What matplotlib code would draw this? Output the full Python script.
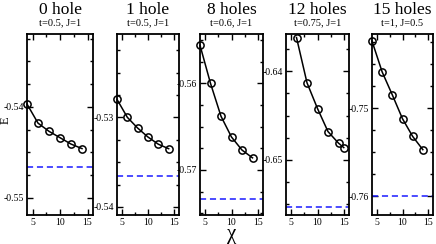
import matplotlib
matplotlib.use("Agg")
import matplotlib.pyplot as plt
from matplotlib.ticker import MultipleLocator, FormatStrFormatter

plt.rcParams['font.family'] = ['Liberation Serif', 'DejaVu Serif']

# data
titles = ["0 hole", "1 hole", "8 holes", "12 holes", "15 holes"]
subtitles = ["t=0.5, J=1", "t=0.5, J=1", "t=0.6, J=1", "t=0.75, J=1", "t=1, J=0.5"]

chi_0 = [4, 6, 8, 10, 12, 14]
E_0 = [-0.5397, -0.5418, -0.5427, -0.5434, -0.5441, -0.5446]
chi_1 = [4, 6, 8, 10, 12, 14]
E_1 = [-0.5280, -0.5300, -0.5312, -0.5322, -0.5330, -0.5335]
chi_8 = [4, 6, 8, 10, 12, 14]
E_8 = [-0.5556, -0.5600, -0.5638, -0.5662, -0.5677, -0.5686]
chi_12 = [6, 8, 10, 12, 14, 15]
E_12 = [-0.6362, -0.6413, -0.6442, -0.6468, -0.6481, -0.6486]
chi_15 = [4, 6, 8, 10, 12, 14]
E_15 = [-0.7424, -0.7459, -0.7485, -0.7512, -0.7532, -0.7547]

exact = [-0.5466, -0.5365, -0.5733, -0.6553, -0.7600]

chis = [chi_0, chi_1, chi_8, chi_12, chi_15]
energies = [E_0, E_1, E_8, E_12, E_15]
ylims = [(-0.5519, -0.5320), (-0.5409, -0.5207), (-0.5752, -0.5543),
         (-0.6562, -0.6358), (-0.7621, -0.7416)]

# panel positions in pixels (left, right)
px = [(27, 93), (117, 179), (200, 263), (286, 349), (372, 433)]
W, H = 436, 244
top, bot = 34, 215

fig = plt.figure(figsize=(W / 100, H / 100), dpi=100)

for i in range(5):
    l, r = px[i]
    ax = fig.add_axes([l / W, 1 - bot / H, (r - l) / W, (bot - top) / H])
    ax.plot(chis[i], energies[i], '-o', color='black', lw=1.1,
            markersize=5.2, markerfacecolor='none', markeredgewidth=1.1,
            clip_on=False, zorder=3)
    ax.axhline(exact[i], color='#1a1aff', lw=1.1, dashes=(4, 2.5))
    ax.set_xlim(4, 16)
    ax.set_ylim(*ylims[i])
    ax.xaxis.set_major_locator(MultipleLocator(5))
    ax.xaxis.set_minor_locator(MultipleLocator(2.5))
    ax.yaxis.set_major_locator(MultipleLocator(0.01))
    ax.yaxis.set_minor_locator(MultipleLocator(0.0025))
    ax.yaxis.set_major_formatter(FormatStrFormatter('%.2f'))
    ax.tick_params(which='both', direction='in', top=True, right=True,
                   labelsize=7, width=1, pad=2)
    ax.tick_params(which='major', length=4.5)
    ax.tick_params(which='minor', length=2.5)
    for s in ax.spines.values():
        s.set_linewidth(1.3)
    cx = (l + r) / 2 / W
    fig.text(cx, 1 - 9.5 / H, titles[i], ha='center', va='center', fontsize=12.5)
    fig.text(cx, 1 - 23 / H, subtitles[i], ha='center', va='center', fontsize=7.5)

fig.text(6 / W, 1 - 120 / H, "E", ha='center', va='center', rotation=90,
         fontsize=9)
fig.text((200 + 263) / 2 / W, 1 - 235 / H, "χ", ha='center', va='center',
         fontsize=15)

fig.savefig("out.png", dpi=100)
